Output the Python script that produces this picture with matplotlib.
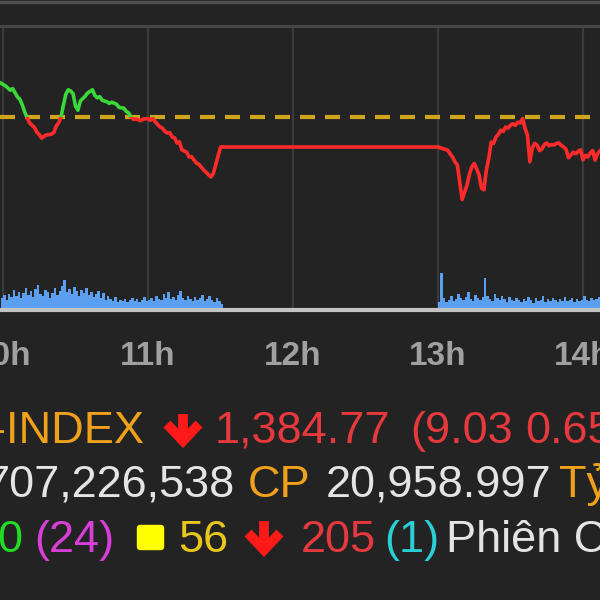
import matplotlib
matplotlib.use('Agg')
import matplotlib.pyplot as plt
from matplotlib.patches import Rectangle, FancyBboxPatch
from matplotlib.lines import Line2D
import numpy as np

# --- du lieu VN-INDEX trong phien ---
ref_price = 1393.80

price_times = [
    "09:57", "09:59", "10:01", "10:03", "10:04", "10:06", "10:07", "10:08", "10:09", "10:10",
    "10:11", "10:13", "10:14", "10:15", "10:16", "10:17", "10:18", "10:20", "10:21", "10:22",
    "10:23", "10:24", "10:25", "10:26", "10:27", "10:28", "10:29", "10:30", "10:31", "10:32",
    "10:34", "10:35", "10:36", "10:37", "10:38", "10:39", "10:40", "10:41", "10:43", "10:44",
    "10:45", "10:47", "10:48", "10:50", "10:51", "10:52", "10:53", "10:54", "10:55", "10:57",
    "10:58", "11:00", "11:01", "11:02", "11:03", "11:04", "11:05", "11:06", "11:07", "11:08",
    "11:09", "11:10", "11:11", "11:12", "11:13", "11:14", "11:16", "11:17", "11:18", "11:20",
    "11:21", "11:23", "11:25", "11:26", "11:27", "11:28", "11:29", "11:30",
    "13:00", "13:02", "13:04", "13:05", "13:06", "13:07", "13:08", "13:09", "13:10", "13:11",
    "13:12", "13:13", "13:14", "13:15", "13:16", "13:17", "13:18", "13:19", "13:20", "13:21",
    "13:22", "13:23", "13:24", "13:25", "13:26", "13:27", "13:28", "13:29", "13:30", "13:31",
    "13:32", "13:33", "13:34", "13:35", "13:36", "13:37", "13:38", "13:39", "13:40", "13:41",
    "13:42", "13:43", "13:44", "13:45", "13:46", "13:47", "13:48", "13:49", "13:50", "13:51",
    "13:52", "13:53", "13:54", "13:55", "13:56", "13:57", "13:58", "13:59", "14:00", "14:01",
    "14:02", "14:03", "14:04", "14:05", "14:06", "14:07",
]
price_values = [
    1403.0, 1402.3, 1401.6, 1400.5, 1400.9, 1398.8, 1398.2, 1396.8, 1395.0, 1393.6,
    1392.3, 1391.2, 1390.0, 1389.4, 1388.5, 1389.0, 1389.3, 1389.5, 1389.9, 1391.5,
    1392.3, 1393.8, 1396.8, 1399.5, 1400.6, 1400.3, 1399.6, 1396.5, 1395.5, 1397.8,
    1399.0, 1399.8, 1400.2, 1400.6, 1399.2, 1398.6, 1398.9, 1398.0, 1397.6, 1397.2,
    1397.5, 1397.0, 1396.2, 1396.0, 1395.2, 1394.8, 1393.8, 1393.2, 1393.3, 1392.9,
    1393.3, 1393.4, 1393.0, 1393.5, 1392.6, 1391.9, 1391.3, 1391.0, 1390.2, 1389.8,
    1389.9, 1388.8, 1388.6, 1387.3, 1387.6, 1385.6, 1385.0, 1383.8, 1383.9, 1382.3,
    1382.0, 1380.6, 1379.4, 1378.8, 1379.6, 1381.8, 1384.0, 1386.3,
    1386.3, 1385.9, 1385.5, 1384.6, 1383.8, 1382.6, 1381.8, 1377.5, 1373.2, 1375.0,
    1376.8, 1379.5, 1381.3, 1382.2, 1380.8, 1379.3, 1376.0, 1375.6, 1380.5, 1383.5,
    1387.5, 1387.2, 1388.8, 1389.5, 1390.5, 1390.2, 1391.3, 1391.0, 1391.8, 1392.1,
    1391.7, 1392.5, 1392.3, 1393.4, 1391.0, 1389.3, 1382.6, 1386.0, 1387.2, 1386.8,
    1385.4, 1385.8, 1386.9, 1387.3, 1386.6, 1386.9, 1386.8, 1387.2, 1387.3, 1386.7,
    1386.3, 1385.7, 1383.6, 1384.3, 1385.0, 1384.6, 1385.2, 1385.6, 1383.1, 1384.2,
    1383.8, 1384.8, 1385.4, 1383.0, 1384.6, 1385.3,
]

# khoi luong theo phut (trieu CP)
vol_am_start = "09:59"
vol_am = [
    1.2, 1.5, 1.0, 1.6, 1.3, 2.0, 1.4, 1.8, 1.2, 1.7, 2.2,
    1.5, 1.9, 1.3, 2.1, 2.5, 1.6, 1.4, 2.0, 1.8, 1.2,
    1.7, 2.2, 1.5, 1.9, 2.4, 3.0, 1.8, 2.1, 1.6, 2.3,
    1.9, 1.4, 2.0, 1.7, 2.2, 1.5, 1.8, 1.3, 1.6, 1.9,
    1.2, 1.7, 1.0, 1.4, 1.1, 0.9, 1.3, 0.8, 1.0, 0.9,
    1.1, 0.8, 1.0, 1.2, 0.9, 1.1, 0.8, 1.0, 1.3, 0.9,
    1.0, 1.2, 0.9, 1.4, 1.1, 1.0, 1.6, 1.2, 1.8, 1.1,
    1.3, 1.0, 1.5, 1.9, 1.2, 1.0, 1.4, 1.1, 0.9, 1.3,
    1.0, 1.2, 1.5, 0.9, 1.1, 1.4, 1.0, 0.8, 1.2, 0.9, 0.6,
]
vol_pm_start = "13:00"
vol_pm = [
    0.8, 3.7, 1.2, 0.8, 1.0, 1.4, 0.9, 1.1, 1.6, 1.2, 1.0,
    1.3, 1.8, 1.1, 0.9, 1.5, 1.2, 1.0, 1.3, 3.2, 1.4, 1.1,
    0.9, 1.6, 1.2, 1.0, 1.4, 1.1, 0.8, 1.3, 1.0, 0.9,
    1.2, 1.0, 0.8, 1.1, 0.9, 1.3, 1.0, 0.7, 1.2, 0.9,
    1.0, 1.4, 0.8, 1.1, 0.9, 1.2, 1.0, 0.8, 1.1, 0.9,
    1.3, 0.9, 1.0, 1.2, 0.8, 1.1, 0.9, 1.0, 1.4, 1.0,
    0.9, 1.2, 1.0, 1.1, 1.3, 0.9, 1.1, 1.2,
]

hour_ticks = [10, 11, 12, 13, 14]
hour_labels = ["10h", "11h", "12h", "13h", "14h"]

BG = '#232323'
FONT = 'Liberation Sans'


def to_hour(s):
    h, m = s.split(':')
    return int(h) + int(m) / 60.0


t_price = np.array([to_hour(s) for s in price_times])
p_price = np.array(price_values)
t_am = to_hour(vol_am_start) + np.arange(len(vol_am)) / 60.0
t_pm = to_hour(vol_pm_start) + np.arange(len(vol_pm)) / 60.0

fig = plt.figure(figsize=(6, 6), dpi=100, facecolor=BG)

# khung tren
fig.add_artist(Line2D([0, 1], [1 - 1.5 / 600, 1 - 1.5 / 600], color='#4e4e4e', lw=2.5,
                      transform=fig.transFigure))

rect = [0, 1 - 310 / 600, 1, 284 / 600]
axv = fig.add_axes(rect)
axv.set_facecolor(BG)
ax = fig.add_axes(rect, sharex=axv)
ax.patch.set_visible(False)

x0, x1 = 10 - 3 / 145, 10 + 597 / 145
axv.set_xlim(x0, x1)

# volume
VOLC = '#5a9ff0'
axv.bar(t_am, vol_am, width=1.05 / 60, color=VOLC, linewidth=0, align='edge')
axv.bar(t_pm, vol_pm, width=1.05 / 60, color=VOLC, linewidth=0, align='edge')
axv.set_ylim(0, 28.4)
axv.axhline(0, color='#c4c4c4', lw=3, clip_on=False, zorder=5)
axv.set_xticks(hour_ticks)
axv.grid(axis='x', color='#3a3a3a', lw=1.6)
axv.set_axisbelow(True)
axv.set_yticks([])
for side in ['left', 'right', 'bottom']:
    axv.spines[side].set_visible(False)
axv.spines['top'].set_color('#454545')
axv.spines['top'].set_linewidth(2.2)
axv.tick_params(axis='x', length=0, pad=22, labelsize=24, labelcolor='#a0a0a0')
axv.set_xticklabels(hour_labels, fontfamily=FONT, fontweight='bold')

# gia: xanh tren tham chieu, do duoi tham chieu
ylo, yhi = 1345.55, 1416.55
ax.set_ylim(ylo, yhi)
ax.axhline(ref_price, color='#cfa51e', lw=3, linestyle=(0, (3.6, 2.4)), zorder=2)
up = ax.plot(t_price, p_price, color='#3ad83a', lw=2.6, zorder=3)[0]
dn = ax.plot(t_price, p_price, color='#ff2b2b', lw=2.6, zorder=3)[0]
up.set_clip_path(Rectangle((x0, ref_price), x1 - x0, yhi - ref_price, transform=ax.transData))
dn.set_clip_path(Rectangle((x0, ylo), x1 - x0, ref_price - ylo, transform=ax.transData))
ax.set_yticks([])
ax.tick_params(axis='x', labelbottom=False, length=0)
for side in ax.spines:
    ax.spines[side].set_visible(False)

# --- dong thong tin ---
ORANGE = '#f0a11c'
RED = '#e6393d'
WHITE = '#e4e4e4'
FS = 32.5


def put(xp, yp, s, color, **kw):
    kw.setdefault('fontfamily', FONT)
    kw.setdefault('fontsize', FS)
    fig.text(xp / 600, 1 - yp / 600, s, color=color, ha='left', va='baseline', **kw)


def down_arrow(cx, top, tip, half_w, head_h):
    # mui ten do dam (pixel -> toa do hinh)
    f = lambda x, y: (x / 600, 1 - y / 600)
    sx, sy = zip(f(cx, top), f(cx, tip - 4))
    fig.add_artist(Line2D(sx, sy, color='#ff1a1a', lw=7, solid_capstyle='butt',
                          transform=fig.transFigure))
    hx, hy = zip(f(cx - half_w, tip - head_h), f(cx, tip), f(cx + half_w, tip - head_h))
    fig.add_artist(Line2D(hx, hy, color='#ff1a1a', lw=7, solid_capstyle='butt',
                          solid_joinstyle='miter', transform=fig.transFigure))


put(-9, 443, "-INDEX", ORANGE)
down_arrow(183, 414, 441, 16, 17)
put(215, 443, "1,384.77", RED)
put(410, 443, "(9.03", RED)
put(525, 443, "0.65", RED)

put(-15, 497, "707,226,538", WHITE)
put(248, 497, "CP", ORANGE)
put(326, 497, "20,958.997", WHITE)
put(559, 497, "Tỷ", ORANGE)

put(-3, 552, "0", '#22dd22')
put(34, 552, "(24)", '#d83ed8')
fig.patches.append(FancyBboxPatch((138 / 600, 1 - 549 / 600), 25 / 600, 23 / 600,
                                  boxstyle='round,pad=0.002,rounding_size=0.006',
                                  facecolor='#ffff00', edgecolor='none',
                                  transform=fig.transFigure, figure=fig))
put(178, 552, "56", '#e8c61c')
down_arrow(264, 521, 550, 16, 17)
put(301, 552, "205", RED)
put(384, 552, "(1)", '#2ccfd6')
put(446, 552, "Phiên C", WHITE)

plt.savefig('out.png', dpi=100, facecolor=BG)
plt.close()
